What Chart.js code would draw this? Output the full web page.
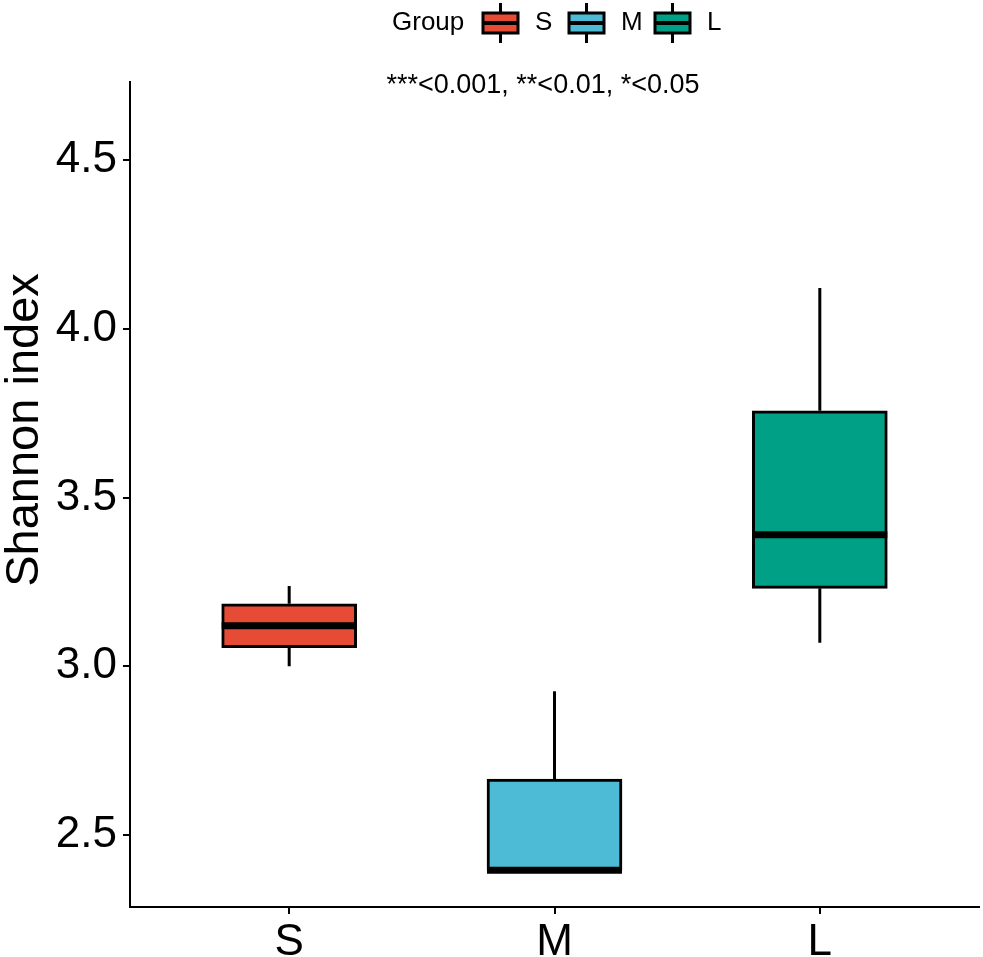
<!DOCTYPE html>
<html lang="en">
<head>
  <meta charset="UTF-8">
  <title>Shannon index by group</title>
  <script src="https://cdn.jsdelivr.net/npm/chart.js"></script>
  <style>
    html, body { margin: 0; padding: 0; background: #fff; }
  </style>
</head>
<body>
  <canvas id="shannonChart" width="983" height="957"></canvas>

  <script>
// Boxplot values
const groups = ['S', 'M', 'L'];
const positions = [1, 2, 3];
const whiskerLow = [3.0, 2.396, 3.07];
const boxLow = [3.055, 2.396, 3.231];
const medians = [3.12, 2.396, 3.39];
const boxHigh = [3.185, 2.666, 3.757];
const whiskerHigh = [3.238, 2.926, 4.121];
const fillColors = ['#E64B35', '#4DBBD5', '#00A087'];
const yTicks = [2.5, 3.0, 3.5, 4.0, 4.5];
const note = '***<0.001, **<0.01, *<0.05';

const FONT = '"Liberation Sans", Arial, sans-serif';

// whiskers under the boxes, medians on top, plus legend / note / y title
const boxExtras = {
  id: 'boxExtras',
  beforeDatasetsDraw(chart) {
    const { ctx, scales: { x, y } } = chart;
    ctx.save();
    ctx.strokeStyle = '#000';
    ctx.lineWidth = 3;
    positions.forEach((p, i) => {
      const px = x.getPixelForValue(p);
      ctx.beginPath();
      ctx.moveTo(px, y.getPixelForValue(whiskerHigh[i]));
      ctx.lineTo(px, y.getPixelForValue(boxHigh[i]));
      ctx.moveTo(px, y.getPixelForValue(boxLow[i]));
      ctx.lineTo(px, y.getPixelForValue(whiskerLow[i]));
      ctx.stroke();
    });
    ctx.restore();
  },
  afterDatasetsDraw(chart) {
    const { ctx, scales: { y } } = chart;
    const bars = chart.getDatasetMeta(0).data;
    ctx.save();
    ctx.strokeStyle = '#000';
    ctx.lineWidth = 7;
    bars.forEach((bar, i) => {
      const py = y.getPixelForValue(medians[i]);
      ctx.beginPath();
      ctx.moveTo(bar.x - bar.width / 2, py);
      ctx.lineTo(bar.x + bar.width / 2, py);
      ctx.stroke();
    });
    ctx.restore();
  },
  afterDraw(chart) {
    const ctx = chart.ctx;
    ctx.save();
    ctx.fillStyle = '#000';

    // legend row
    ctx.font = '26px ' + FONT;
    ctx.textBaseline = 'middle';
    ctx.textAlign = 'left';
    ctx.fillText('Group', 392, 23);
    groups.forEach((g, i) => {
      const bx = 483 + i * 86;
      ctx.strokeStyle = '#000';
      ctx.lineWidth = 3;
      ctx.beginPath();
      ctx.moveTo(bx + 17.5, 3);
      ctx.lineTo(bx + 17.5, 43);
      ctx.stroke();
      ctx.fillStyle = fillColors[i];
      ctx.fillRect(bx, 13, 35, 20);
      ctx.strokeRect(bx, 13, 35, 20);
      ctx.lineWidth = 4;
      ctx.beginPath();
      ctx.moveTo(bx, 23);
      ctx.lineTo(bx + 35, 23);
      ctx.stroke();
      ctx.fillStyle = '#000';
      ctx.fillText(g, bx + 52, 23);
    });

    // significance note
    ctx.font = '27px ' + FONT;
    ctx.textAlign = 'center';
    ctx.textBaseline = 'alphabetic';
    ctx.fillText(note, 543, 93);

    // y axis title
    ctx.font = '47px ' + FONT;
    ctx.translate(38, 430);
    ctx.rotate(-Math.PI / 2);
    ctx.fillText('Shannon index', 0, 0);
    ctx.restore();
  }
};

const ctx = document.getElementById('shannonChart').getContext('2d');
const shannonChart = new Chart(ctx, {
  type: 'bar',
  data: {
    datasets: [{
      data: positions.map((p, i) => ({ x: p, y: [boxLow[i], boxHigh[i]] })),
      backgroundColor: fillColors,
      borderColor: '#000',
      borderWidth: 3,
      borderSkipped: false,
      barThickness: 135
    }]
  },
  options: {
    responsive: false,
    animation: false,
    layout: { padding: { top: 82, right: 4, left: 0, bottom: 0 } },
    plugins: {
      legend: { display: false },
      tooltip: { enabled: false }
    },
    scales: {
      x: {
        type: 'linear',
        min: 0.4,
        max: 3.6,
        offset: false,
        afterBuildTicks: scale => { scale.ticks = positions.map(v => ({ value: v })); },
        afterFit: scale => { scale.height = 50; },
        ticks: {
          callback: v => groups[positions.indexOf(v)],
          color: '#000',
          font: { family: FONT, size: 44 },
          padding: 2,
          maxRotation: 0
        },
        grid: { offset: false, drawOnChartArea: false, color: '#000', lineWidth: 2, tickLength: 7 },
        border: { color: '#000', width: 2 }
      },
      y: {
        type: 'linear',
        min: 2.287,
        max: 4.731,
        afterBuildTicks: scale => { scale.ticks = yTicks.map(v => ({ value: v })); },
        afterFit: scale => { scale.width = 130; },
        ticks: {
          callback: v => v.toFixed(1),
          color: '#000',
          font: { family: FONT, size: 44 },
          padding: 6
        },
        grid: { drawOnChartArea: false, color: '#000', lineWidth: 2, tickLength: 7 },
        border: { color: '#000', width: 2 }
      }
    }
  },
  plugins: [boxExtras]
});
  </script>
</body>
</html>
